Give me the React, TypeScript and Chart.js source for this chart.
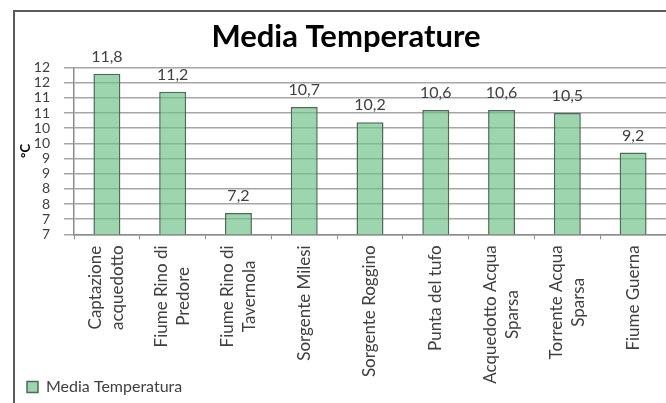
import { useEffect, useRef } from 'react';
import { Chart, registerables } from 'chart.js';

Chart.register(...registerables);

// Sampling stations (each entry is one category, split into its text lines)
const categories: string[][] = [
  ['Captazione', 'acquedotto'],
  ['Fiume Rino di', 'Predore'],
  ['Fiume Rino di', 'Tavernola'],
  ['Sorgente Milesi'],
  ['Sorgente Roggino'],
  ['Punta del tufo'],
  ['Acquedotto Acqua', 'Sparsa'],
  ['Torrente Acqua', 'Sparsa'],
  ['Fiume Guerna'],
];

// Mean temperature per station, °C
const mediaTemperatura: number[] = [11.8, 11.2, 7.2, 10.7, 10.2, 10.6, 10.6, 10.5, 9.2];

const Y_MIN = 6.5;
const Y_MAX = 12;
const Y_STEP = 0.5;

const CHART_TITLE = 'Media Temperature';
const SERIES_NAME = 'Media Temperatura';
const Y_TITLE = '°C';

const FONT = 'Lato, "Open Sans", "DejaVu Sans", sans-serif';
const TEXT_COLOR = '#404040';
const X_LABEL_SIZE = 17;
const X_LINE_GAP = 22;

const fmtComma = (v: number) => v.toFixed(1).replace('.', ',');

// White background plus the frame line on the left and top edges
const framePlugin = {
  id: 'frame',
  beforeDraw(chart: any) {
    const { ctx, width, height } = chart;
    ctx.save();
    ctx.fillStyle = '#ffffff';
    ctx.fillRect(0, 0, width, height);
    ctx.strokeStyle = '#5a5a5a';
    ctx.lineWidth = 2;
    ctx.beginPath();
    ctx.moveTo(14, height + 2);
    ctx.lineTo(14, 11);
    ctx.lineTo(width + 2, 11);
    ctx.stroke();
    ctx.restore();
  },
};

// Vertical category labels, lines of one label centred on each other
const categoryLabelPlugin = {
  id: 'categoryLabels',
  afterDraw(chart: any) {
    const { ctx } = chart;
    const xs = chart.scales.x;
    ctx.save();
    ctx.font = `${X_LABEL_SIZE}px ${FONT}`;
    ctx.fillStyle = TEXT_COLOR;
    ctx.textAlign = 'center';
    ctx.textBaseline = 'middle';
    categories.forEach((lines, i) => {
      const px = xs.getPixelForTick(i);
      const n = lines.length;
      const maxW = Math.max(...lines.map((l) => ctx.measureText(l).width));
      const cy = xs.top + 11 + maxW / 2;
      lines.forEach((line, j) => {
        const x = px + (j - (n - 1) / 2) * X_LINE_GAP;
        ctx.save();
        ctx.translate(x, cy);
        ctx.rotate(-Math.PI / 2);
        ctx.fillText(line, 0, 0);
        ctx.restore();
      });
    });
    ctx.restore();
  },
};

// Value printed above each bar
const valueLabelPlugin = {
  id: 'valueLabels',
  afterDatasetsDraw(chart: any) {
    const { ctx } = chart;
    const meta = chart.getDatasetMeta(0);
    ctx.save();
    ctx.font = `16px ${FONT}`;
    ctx.fillStyle = TEXT_COLOR;
    ctx.textAlign = 'center';
    ctx.textBaseline = 'middle';
    meta.data.forEach((bar: any, i: number) => {
      ctx.fillText(fmtComma(mediaTemperatura[i]), bar.x, bar.y - 17);
    });
    ctx.restore();
  },
};

export default function App() {
  const canvasRef = useRef<HTMLCanvasElement | null>(null);

  useEffect(() => {
    if (!canvasRef.current) return;
    Chart.defaults.font.family = FONT;
    const chart = new Chart(canvasRef.current, {
      type: 'bar',
      data: {
        labels: categories.map((c) => c.join(' ')),
        datasets: [
          {
            label: SERIES_NAME,
            data: mediaTemperatura,
            backgroundColor: 'rgba(110, 195, 135, 0.68)',
            borderColor: '#4d6b57',
            borderWidth: 1.5,
            barPercentage: 0.41,
            categoryPercentage: 1,
          },
        ],
      },
      options: {
        responsive: false,
        animation: false,
        devicePixelRatio: 1,
        layout: { padding: { left: 24, right: -2, top: 0, bottom: -2 } },
        plugins: {
          title: {
            display: true,
            text: CHART_TITLE,
            color: '#000000',
            font: { family: FONT, size: 31, weight: 'bold', lineHeight: 1.2 },
            padding: { top: 18.4, bottom: 12 },
          },
          legend: {
            position: 'bottom',
            align: 'start',
            labels: {
              color: TEXT_COLOR,
              font: { family: FONT, size: 16 },
              boxWidth: 11,
              boxHeight: 11,
              padding: 3,
            },
          },
          tooltip: { enabled: false },
        },
        scales: {
          x: {
            grid: {
              offset: true,
              drawOnChartArea: false,
              drawTicks: true,
              tickLength: 5,
              color: '#8c8c8c',
              lineWidth: 1,
            },
            border: { color: '#8c8c8c', width: 1.5 },
            ticks: { display: false },
            afterFit: (s: any) => {
              s.height = 141.7;
            },
          },
          y: {
            min: Y_MIN,
            max: Y_MAX,
            ticks: {
              stepSize: Y_STEP,
              maxTicksLimit: 20,
              autoSkip: false,
              callback: (v: any) => String(Math.round(Number(v))),
              color: TEXT_COLOR,
              font: { family: FONT, size: 14 },
              padding: 14,
            },
            grid: { color: '#a6a6a6', lineWidth: 1.5, tickLength: 10 },
            border: { color: '#8c8c8c', width: 1.5 },
            title: {
              display: true,
              text: Y_TITLE,
              color: '#000000',
              font: { family: FONT, size: 13, weight: 'bold' },
              padding: { top: -6, bottom: 0 },
            },
            afterFit: (s: any) => {
              s.width = 50;
            },
          },
        },
      },
      plugins: [framePlugin, valueLabelPlugin, categoryLabelPlugin],
    });
    return () => chart.destroy();
  }, []);

  return (
    <div style={{ position: 'absolute', left: 0, top: 0, width: 666, height: 403 }}>
      <canvas ref={canvasRef} width={666} height={403} />
    </div>
  );
}
